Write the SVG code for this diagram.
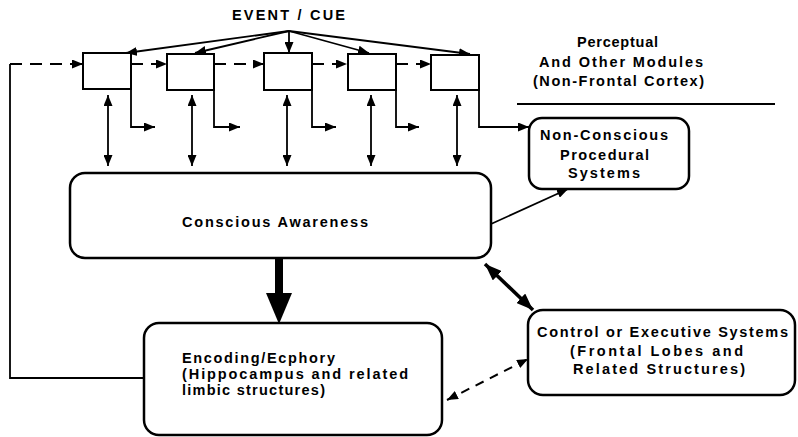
<svg xmlns="http://www.w3.org/2000/svg" width="798" height="437" viewBox="0 0 798 437">
<style>
  text { font-family: "Liberation Sans", Arial, sans-serif; font-weight: bold; font-size: 14.5px; fill: #000; }
  .mod { fill: #fff; stroke: #000; stroke-width: 2; }
  .rbox { fill: #fff; stroke: #000; stroke-width: 2.5; }
  .ln { fill: none; stroke: #000; stroke-width: 1.8; }
  .dash { fill: none; stroke: #000; stroke-width: 2; stroke-dasharray: 12 8; }
</style>
<defs>
  <marker id="a" markerUnits="userSpaceOnUse" markerWidth="11" markerHeight="9" refX="11" refY="4.5" orient="auto-start-reverse">
    <path d="M0,0 L11,4.5 L0,9 z" fill="#000"/>
  </marker>
  <marker id="b" markerUnits="userSpaceOnUse" markerWidth="17" markerHeight="13" refX="17" refY="6.5" orient="auto-start-reverse">
    <path d="M0,0 L17,6.5 L0,13 z" fill="#000"/>
  </marker>
</defs>

<g id="labels">
  <text x="232" y="20" textLength="113" lengthAdjust="spacing">EVENT / CUE</text>
  <text x="577" y="47" textLength="81" lengthAdjust="spacing">Perceptual</text>
  <text x="539" y="67" textLength="164" lengthAdjust="spacing">And Other Modules</text>
  <text x="533" y="86" textLength="171" lengthAdjust="spacing">(Non-Frontal Cortex)</text>
  <line x1="517" y1="104" x2="775" y2="104" stroke="#000" stroke-width="2"/>
</g>

<g id="connectors">
  <!-- fan from event/cue -->
  <line class="ln" x1="289" y1="31" x2="126" y2="53" marker-end="url(#a)"/>
  <line class="ln" x1="289" y1="31" x2="195" y2="53" marker-end="url(#a)"/>
  <line class="ln" x1="289" y1="31" x2="289" y2="53" marker-end="url(#a)"/>
  <line class="ln" x1="289" y1="31" x2="369" y2="53" marker-end="url(#a)"/>
  <line class="ln" x1="289" y1="31" x2="470" y2="54" marker-end="url(#a)"/>
  <!-- dashed chain -->
  <line class="dash" x1="10" y1="64" x2="83" y2="64" marker-end="url(#a)"/>
  <line class="dash" x1="131" y1="64" x2="167" y2="64" marker-end="url(#a)"/>
  <line class="dash" x1="214" y1="64" x2="264" y2="64" marker-end="url(#a)"/>
  <line class="dash" x1="312" y1="64" x2="347" y2="64" marker-end="url(#a)"/>
  <line class="dash" x1="396" y1="64" x2="431" y2="64" marker-end="url(#a)"/>
  <!-- feedback loop -->
  <polyline class="ln" stroke-width="2.2" points="144,378 10,378 10,64"/>
  <!-- vertical double arrows -->
  <line class="ln" x1="108" y1="95" x2="108" y2="166" marker-start="url(#a)" marker-end="url(#a)"/>
  <line class="ln" x1="192" y1="95" x2="192" y2="166" marker-start="url(#a)" marker-end="url(#a)"/>
  <line class="ln" x1="287" y1="95" x2="287" y2="166" marker-start="url(#a)" marker-end="url(#a)"/>
  <line class="ln" x1="371" y1="95" x2="371" y2="166" marker-start="url(#a)" marker-end="url(#a)"/>
  <line class="ln" x1="457" y1="95" x2="457" y2="166" marker-start="url(#a)" marker-end="url(#a)"/>
  <!-- L outputs -->
  <polyline class="ln" points="131,89 131,127 155,127" marker-end="url(#a)"/>
  <polyline class="ln" points="214,89 214,127 240,127" marker-end="url(#a)"/>
  <polyline class="ln" points="312,89 312,127 336,127" marker-end="url(#a)"/>
  <polyline class="ln" points="396,89 396,127 419,127" marker-end="url(#a)"/>
  <polyline class="ln" points="479,89 479,127 529,127" marker-end="url(#a)"/>
  <!-- conscious to non-conscious -->
  <line class="ln" x1="491" y1="224" x2="568" y2="189" marker-end="url(#a)"/>
  <!-- thick arrow conscious to encoding -->
  <rect x="275" y="256" width="8" height="40" fill="#000"/>
  <path d="M266,293 L292,293 L279,324 z" fill="#000"/>
  <!-- thick double arrow conscious <-> control -->
  <line x1="485" y1="264" x2="533" y2="310" stroke="#000" stroke-width="3.5" marker-start="url(#b)" marker-end="url(#b)"/>
  <!-- dashed double arrow control <-> encoding -->
  <line x1="447" y1="400" x2="528" y2="359" stroke="#000" stroke-width="2" stroke-dasharray="9 7" marker-start="url(#a)" marker-end="url(#a)"/>
</g>

<g id="module1"><rect class="mod" x="83" y="53" width="48" height="36"/></g>
<g id="module2"><rect class="mod" x="167" y="54" width="47" height="36"/></g>
<g id="module3"><rect class="mod" x="264" y="53" width="48" height="37"/></g>
<g id="module4"><rect class="mod" x="348" y="54" width="48" height="36"/></g>
<g id="module5"><rect class="mod" x="431" y="55" width="48" height="35"/></g>

<g id="nonconscious">
  <rect class="rbox" x="529" y="118" width="160" height="71" rx="13"/>
  <text x="540" y="140" textLength="128" lengthAdjust="spacing">Non-Conscious</text>
  <text x="560" y="160" textLength="89" lengthAdjust="spacing">Procedural</text>
  <text x="568" y="178" textLength="72" lengthAdjust="spacing">Systems</text>
</g>

<g id="conscious">
  <rect class="rbox" x="70" y="173" width="421" height="85" rx="15"/>
  <text x="182" y="227" textLength="186" lengthAdjust="spacing">Conscious  Awareness</text>
</g>

<g id="encoding">
  <rect class="rbox" x="144" y="323" width="298" height="112" rx="15"/>
  <text x="182" y="363" textLength="153" lengthAdjust="spacing">Encoding/Ecphory</text>
  <text x="182" y="379" textLength="226" lengthAdjust="spacing">(Hippocampus  and  related</text>
  <text x="182" y="395" textLength="143" lengthAdjust="spacing">limbic  structures)</text>
</g>

<g id="control">
  <rect class="rbox" x="528" y="310" width="267" height="85" rx="15"/>
  <text x="537" y="337" textLength="251" lengthAdjust="spacing">Control or Executive Systems</text>
  <text x="570" y="356" textLength="173" lengthAdjust="spacing">(Frontal Lobes and</text>
  <text x="573" y="374" textLength="172" lengthAdjust="spacing">Related Structures)</text>
</g>
</svg>
